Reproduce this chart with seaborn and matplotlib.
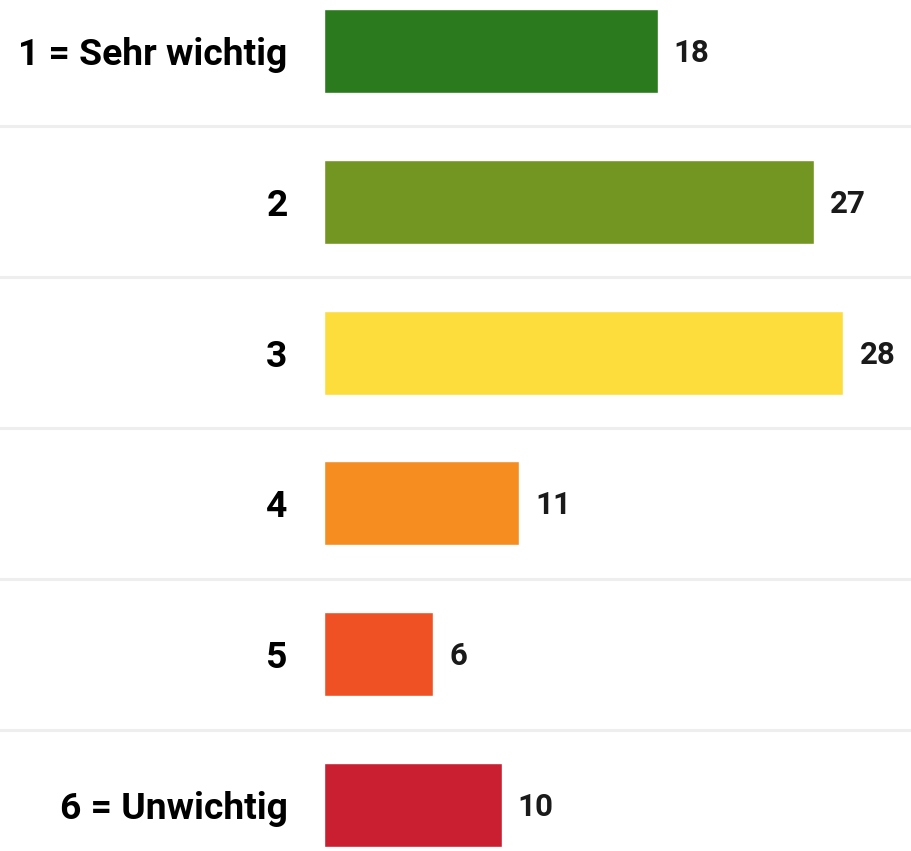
import matplotlib
matplotlib.use("Agg")
import matplotlib.pyplot as plt
import seaborn as sns
import pandas as pd

categories = ["1 = Sehr wichtig", "2", "3", "4", "5", "6 = Unwichtig"]
values = [18.0, 26.4, 28.0, 10.55, 5.9, 9.6]
value_labels = ["18", "27", "28", "11", "6", "10"]
colors = ["#2B7A1E", "#739622", "#FDDD3C", "#F68D21", "#F05124", "#C91F30"]

sns.set_theme(style="white")
plt.rcParams["font.family"] = ["Roboto", "DejaVu Sans"]

df = pd.DataFrame({"cat": categories, "val": values})

W, H = 911, 851
fig = plt.figure(figsize=(W / 100, H / 100), dpi=100)
left_px = 323.5
ax = fig.add_axes([left_px / W, 0, (W - left_px) / W, 1])

sns.barplot(data=df, y="cat", x="val", hue="cat", palette=colors, orient="h",
            width=0.557, legend=False, ax=ax, saturation=1)

px_per_unit = 18.57
ax.set_xlim(0, (W - left_px) / px_per_unit)
row = 150.8
top = -51 / row
bottom = (H - 51) / row
ax.set_ylim(bottom, top)

for s in ax.spines.values():
    s.set_visible(False)
ax.set_xticks([])
ax.set_xlabel("")
ax.set_ylabel("")
ax.tick_params(axis="y", length=0, pad=25.9)
for t in ax.get_yticklabels():
    t.set_fontsize(26.8)
    t.set_fontweight("bold")
    t.set_color("#000000")

for i in range(len(categories) - 1):
    ax.axhline(i + 0.5, xmin=-left_px / (W - left_px), xmax=1, color="#EEEEEE",
               linewidth=2.2, clip_on=False, zorder=0)

for i, (v, lab) in enumerate(zip(values, value_labels)):
    ax.annotate(lab, (v, i), xytext=(11.5, -1.5), textcoords="offset points",
                va="center", ha="left", fontsize=22.5, fontweight="bold",
                color="#1A1A1A")

fig.savefig("out.png", dpi=100, facecolor="white")
